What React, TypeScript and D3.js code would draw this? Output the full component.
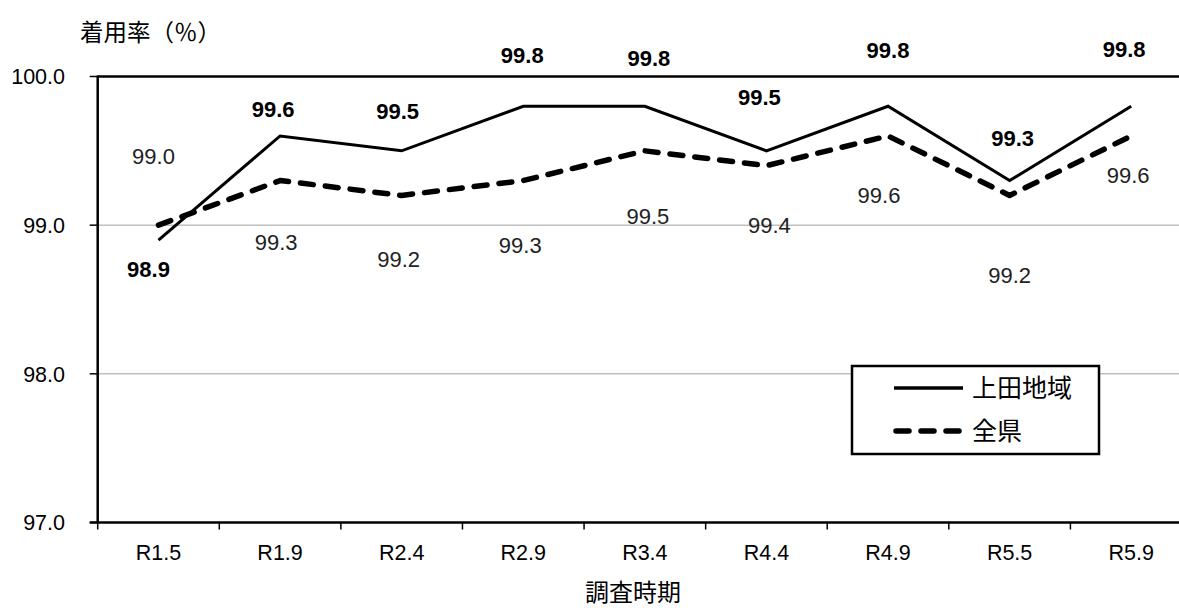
import React from "react";
import * as d3 from "d3";

const categories = ["R1.5", "R1.9", "R2.4", "R2.9", "R3.4", "R4.4", "R4.9", "R5.5", "R5.9"];
const uedaValues = [98.9, 99.6, 99.5, 99.8, 99.8, 99.5, 99.8, 99.3, 99.8];
const prefValues = [99.0, 99.3, 99.2, 99.3, 99.5, 99.4, 99.6, 99.2, 99.6];
const yTicks = [97, 98, 99, 100];
const seriesNames = ["上田地域", "全県"];
const yTitle = "着用率（％）";
const xTitle = "調査時期";

// label offsets (layout, px) relative to the data point
const uedaLabelOffsets: [number, number][] = [
  [-10, 37], [-7, -19], [-4, -32], [-1, -43], [4, -40], [-7, -46], [0, -48], [3, -35], [-7, -49],
];
const prefLabelOffsets: [number, number][] = [
  [-5, -61], [-4, 69], [-3, 72], [-3, 72], [3, 73], [3, 67], [-9, 67], [0, 88], [-3, 47],
];

const W = 1179;
const H = 608;
const left = 97.7;
const right = 1192;
const top = 76.5;
const bottom = 522.5;

export default function App() {
  const x = d3.scaleBand<string>().domain(categories).range([left, right]).padding(0);
  const bw = x.bandwidth();
  const cx = (c: string) => (x(c) as number) + bw / 2;
  const y = d3.scaleLinear().domain([97, 100]).range([bottom, top]);

  const line = d3
    .line<number>()
    .x((_, i) => cx(categories[i]))
    .y((v) => y(v));

  const numFont = "'Liberation Sans', Arial, sans-serif";
  const jpFont = "'Noto Sans CJK JP', sans-serif";
  const boundaries = [...categories.map((c) => x(c) as number), right];

  return (
    <svg width={W} height={H} style={{ position: "absolute", left: 0, top: 0, background: "#fff" }}>
      <rect x={0} y={0} width={W} height={H} fill="#fff" />
      {/* gridlines */}
      {yTicks.map((t) => (
        <line
          key={"g" + t}
          x1={left}
          x2={right}
          y1={y(t)}
          y2={y(t)}
          stroke={t === 100 ? "#000" : t === 97 ? "none" : "#a0a0a0"}
          strokeWidth={t === 100 ? 2.5 : 1}
        />
      ))}
      {/* y axis */}
      <line x1={left} x2={left} y1={top - 1} y2={bottom} stroke="#000" strokeWidth={2.5} />
      {yTicks.map((t) => (
        <g key={"yt" + t}>
          <line x1={left - 8} x2={left} y1={y(t)} y2={y(t)} stroke="#000" strokeWidth={1.5} />
          <text
            x={65}
            y={y(t)}
            dy="0.36em"
            textAnchor="end"
            fontFamily={numFont}
            fontSize={21.5}
            fill="#000"
          >
            {t.toFixed(1)}
          </text>
        </g>
      ))}
      {/* x axis */}
      <line x1={left - 8} x2={right} y1={bottom} y2={bottom} stroke="#000" strokeWidth={2.5} />
      {boundaries.map((b, i) => (
        <line key={"xt" + i} x1={b} x2={b} y1={bottom} y2={bottom + 7} stroke="#000" strokeWidth={1.5} />
      ))}
      {categories.map((c) => (
        <text
          key={"xl" + c}
          x={cx(c)}
          y={560}
          textAnchor="middle"
          fontFamily={numFont}
          fontSize={21.5}
          fill="#000"
        >
          {c}
        </text>
      ))}
      {/* titles */}
      <text x={80} y={41} fontFamily={jpFont} fontSize={23.5} fill="#000">
        {yTitle}
      </text>
      <text x={633} y={601} textAnchor="middle" fontFamily={jpFont} fontSize={24} fill="#000">
        {xTitle}
      </text>
      {/* series */}
      <path
        d={line(prefValues) || ""}
        fill="none"
        stroke="#000"
        strokeWidth={5.5}
        strokeDasharray="13 12"
        strokeLinecap="round"
        strokeLinejoin="round"
      />
      <path d={line(uedaValues) || ""} fill="none" stroke="#000" strokeWidth={3} strokeLinejoin="miter" />
      {/* labels */}
      {uedaValues.map((v, i) => (
        <text
          key={"ul" + i}
          x={cx(categories[i]) + uedaLabelOffsets[i][0]}
          y={y(v) + uedaLabelOffsets[i][1]}
          textAnchor="middle"
          fontFamily={numFont}
          fontSize={22}
          fontWeight="bold"
          fill="#000"
        >
          {v.toFixed(1)}
        </text>
      ))}
      {prefValues.map((v, i) => (
        <text
          key={"pl" + i}
          x={cx(categories[i]) + prefLabelOffsets[i][0]}
          y={y(v) + prefLabelOffsets[i][1]}
          textAnchor="middle"
          fontFamily={numFont}
          fontSize={22}
          fill="#222"
        >
          {v.toFixed(1)}
        </text>
      ))}
      {/* legend */}
      <rect x={852} y={366} width={247} height={88} fill="#fff" stroke="#000" strokeWidth={2.5} />
      <line x1={894} x2={963} y1={388} y2={388} stroke="#000" strokeWidth={3.5} />
      <line
        x1={896}
        x2={962}
        y1={431}
        y2={431}
        stroke="#000"
        strokeWidth={5.5}
        strokeDasharray="13 12"
        strokeLinecap="round"
      />
      <text x={972} y={388} dy="0.36em" fontFamily={jpFont} fontSize={25} fill="#000">
        {seriesNames[0]}
      </text>
      <text x={972} y={431} dy="0.36em" fontFamily={jpFont} fontSize={25} fill="#000">
        {seriesNames[1]}
      </text>
    </svg>
  );
}
